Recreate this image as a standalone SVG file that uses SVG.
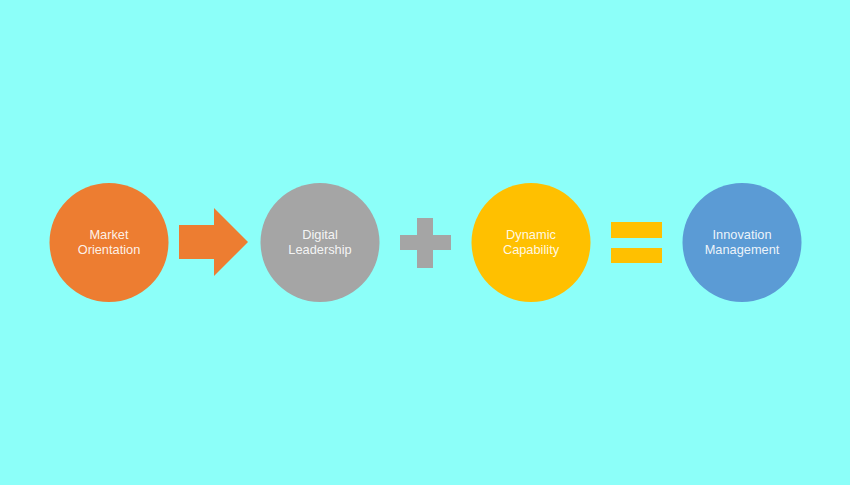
<svg xmlns="http://www.w3.org/2000/svg" width="850" height="485" viewBox="0 0 850 485">
<style>
.lbl{font-family:"Liberation Sans",Arial,sans-serif;font-size:12.8px;fill:#ffffff;fill-opacity:0.9;text-anchor:middle}
</style>
<rect width="850" height="485" fill="#8cfff9"/>
<g id="connectors">
<path d="M179 225 H214 V208 L248 242 L214 276 V259 H179 Z" fill="#ed7d31"/>
<path d="M417 218 H433 V235 H451 V250 H433 V268 H417 V250 H400 V235 H417 Z" fill="#a5a5a5"/>
<rect x="611" y="222" width="51" height="16" fill="#ffc000"/>
<rect x="611" y="248" width="51" height="15" fill="#ffc000"/>
</g>
<g id="market">
<circle cx="109" cy="242.5" r="59.5" fill="#ed7d31"/>
<text class="lbl" x="109" y="238.5">Market<tspan x="109" dy="15">Orientation</tspan></text>
</g>
<g id="digital">
<circle cx="320" cy="242.5" r="59.5" fill="#a5a5a5"/>
<text class="lbl" x="320" y="238.5">Digital<tspan x="320" dy="15">Leadership</tspan></text>
</g>
<g id="dynamic">
<circle cx="531" cy="242.5" r="59.5" fill="#ffc000"/>
<text class="lbl" x="531" y="238.5">Dynamic<tspan x="531" dy="15">Capability</tspan></text>
</g>
<g id="innovation">
<circle cx="742" cy="242.5" r="59.5" fill="#5b9bd5"/>
<text class="lbl" x="742" y="238.5">Innovation<tspan x="742" dy="15">Management</tspan></text>
</g>
</svg>
